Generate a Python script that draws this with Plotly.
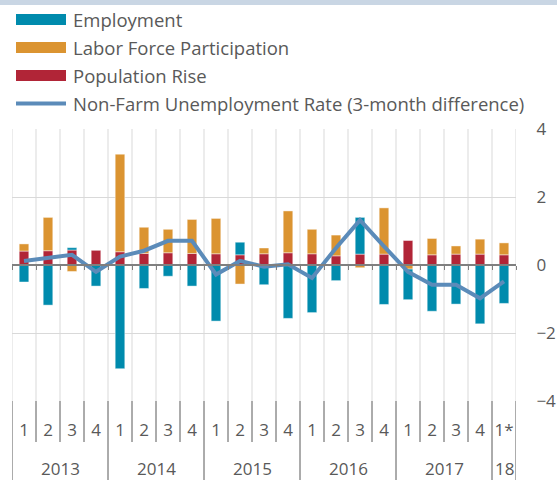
import plotly.graph_objects as go

# ---- data ----
years = ["2013"] * 4 + ["2014"] * 4 + ["2015"] * 4 + ["2016"] * 4 + ["2017"] * 4 + ["18"]
quarters = ["1", "2", "3", "4"] * 5 + ["1*"]

employment = [-0.50, -1.18, 0.07, -0.62, -3.05, -0.69, -0.33, -0.62, -1.65, 0.37, -0.58,
              -1.57, -1.40, -0.46, 1.08, -1.16, -0.90, -1.36, -1.15, -1.73, -1.13]
labor_force = [0.21, 0.98, -0.19, 0.00, 2.87, 0.77, 0.69, 1.00, 1.04, -0.56, 0.17,
               1.23, 0.72, 0.61, -0.08, 1.36, -0.12, 0.48, 0.24, 0.44, 0.35]
population = [0.41, 0.42, 0.44, 0.44, 0.39, 0.34, 0.36, 0.34, 0.33, 0.30, 0.33,
              0.36, 0.33, 0.27, 0.32, 0.32, 0.72, 0.30, 0.32, 0.32, 0.30]
unemployment = [0.12, 0.21, 0.30, -0.20, 0.25, 0.42, 0.71, 0.71, -0.28, 0.12, -0.05,
                0.02, -0.38, 0.50, 1.32, 0.55, -0.20, -0.58, -0.58, -0.98, -0.48]

series_names = ["Employment", "Labor Force Participation", "Population Rise",
                "Non-Farm Unemployment Rate (3-month difference)"]
y_ticks = [-4, -2, 0, 2, 4]

# ---- style ----
TEAL = "#008BAD"
ORANGE = "#DB9431"
RED = "#B12537"
BLUE = "#5B8BB9"
TXT = "#595959"
GRID = "#D9D9D9"
FONT = "Open Sans"

W, H = 557, 480
ML, MR, MT, MB = 12, 41, 129, 79
PW, PH = W - ML - MR, H - MT - MB


def px_x(px):
    return (px - ML) / PW


def px_y(py):
    return 1 - (py - MT) / PH


n = len(quarters)
xi = list(range(n))
bounds = [i - 0.5 for i in range(n + 1)]
edge = dict(color="rgba(255,255,255,0.55)", width=0.8)

fig = go.Figure()
fig.add_bar(x=xi, y=population, name=series_names[2], marker=dict(color=RED, line=edge), width=0.4)
fig.add_bar(x=xi, y=labor_force, name=series_names[1], marker=dict(color=ORANGE, line=edge), width=0.4)
fig.add_bar(x=xi, y=employment, name=series_names[0], marker=dict(color=TEAL, line=edge), width=0.4)
fig.add_scatter(x=xi, y=unemployment, name=series_names[3], mode="lines",
                line=dict(color=BLUE, width=4), xaxis="x2", yaxis="y")

shapes = []
annotations = []
# vertical gridlines at category boundaries
for b in bounds:
    shapes.append(dict(type="line", xref="x", yref="paper", x0=b, x1=b, y0=0, y1=1,
                       line=dict(color=GRID, width=1), layer="below"))

# separators in category label area + year labels
groups = []
start = 0
for i in range(1, n + 1):
    if i == n or years[i] != years[i - 1]:
        groups.append((start, i - 1, years[start]))
        start = i
year_bounds = {g[0] for g in groups} | {n}
for i in range(n + 1):
    full = i in year_bounds
    shapes.append(dict(type="line", xref="x", yref="paper", x0=i - 0.5, x1=i - 0.5,
                       y0=0, y1=px_y(H if full else 442), line=dict(color=TXT, width=1)))
for s, e, lab in groups:
    annotations.append(dict(xref="x", yref="paper", x=(s + e) / 2, y=px_y(468), text=lab,
                            showarrow=False, xanchor="center", yanchor="middle",
                            font=dict(family=FONT, size=17, color=TXT)))

# top band
shapes.append(dict(type="rect", xref="paper", yref="paper", x0=px_x(0), x1=px_x(W),
                   y0=px_y(5), y1=px_y(0), fillcolor="#C9D6E4", line=dict(width=0), layer="below"))

# manual legend
leg_colors = [TEAL, ORANGE, RED]
rows = [19.5, 47.5, 75.5, 103.5]
for k in range(3):
    shapes.append(dict(type="rect", xref="paper", yref="paper", x0=px_x(16), x1=px_x(66),
                       y0=px_y(rows[k] + 5.5), y1=px_y(rows[k] - 5.5),
                       fillcolor=leg_colors[k], line=dict(width=0)))
shapes.append(dict(type="line", xref="paper", yref="paper", x0=px_x(16), x1=px_x(66),
                   y0=px_y(rows[3]), y1=px_y(rows[3]), line=dict(color=BLUE, width=4)))
for k in range(4):
    annotations.append(dict(xref="paper", yref="paper", x=px_x(71), y=px_y(rows[k]),
                            text=series_names[k], showarrow=False, xanchor="left",
                            yanchor="middle", font=dict(family=FONT, size=18.5, color=TXT)))

fig.update_layout(
    width=W, height=H,
    margin=dict(l=ML, r=MR, t=MT, b=MB, pad=0),
    paper_bgcolor="white", plot_bgcolor="white",
    barmode="relative", bargap=0.6,
    showlegend=False,
    font=dict(family=FONT, size=17, color=TXT),
    shapes=shapes, annotations=annotations,
    xaxis=dict(range=[-0.5, n - 0.5], showgrid=False, zeroline=False,
               tickmode="array", tickvals=xi, ticktext=quarters, tickangle=0,
               ticks="outside", ticklen=14, tickcolor="rgba(0,0,0,0)",
               tickfont=dict(family=FONT, size=17, color=TXT), showline=False, fixedrange=True),
    xaxis2=dict(overlaying="x", anchor="free", position=0.5, range=[-0.5, n - 0.5],
                showline=True, linecolor="#7F7F7F", linewidth=1.5, zeroline=False,
                tickmode="array", tickvals=bounds, ticks="outside", ticklen=4,
                tickcolor="#7F7F7F", showticklabels=False, showgrid=False, fixedrange=True),
    yaxis=dict(side="right", range=[-4, 4], tickvals=y_ticks, showgrid=True, gridcolor=GRID,
               gridwidth=1, zeroline=False, ticks="outside", ticklen=16,
               tickcolor="rgba(0,0,0,0)", automargin=False,
               tickfont=dict(family=FONT, size=17, color=TXT), fixedrange=True),
)

fig.write_html("out.html", config={"displayModeBar": False},
               post_script="document.body.style.margin='0';")
